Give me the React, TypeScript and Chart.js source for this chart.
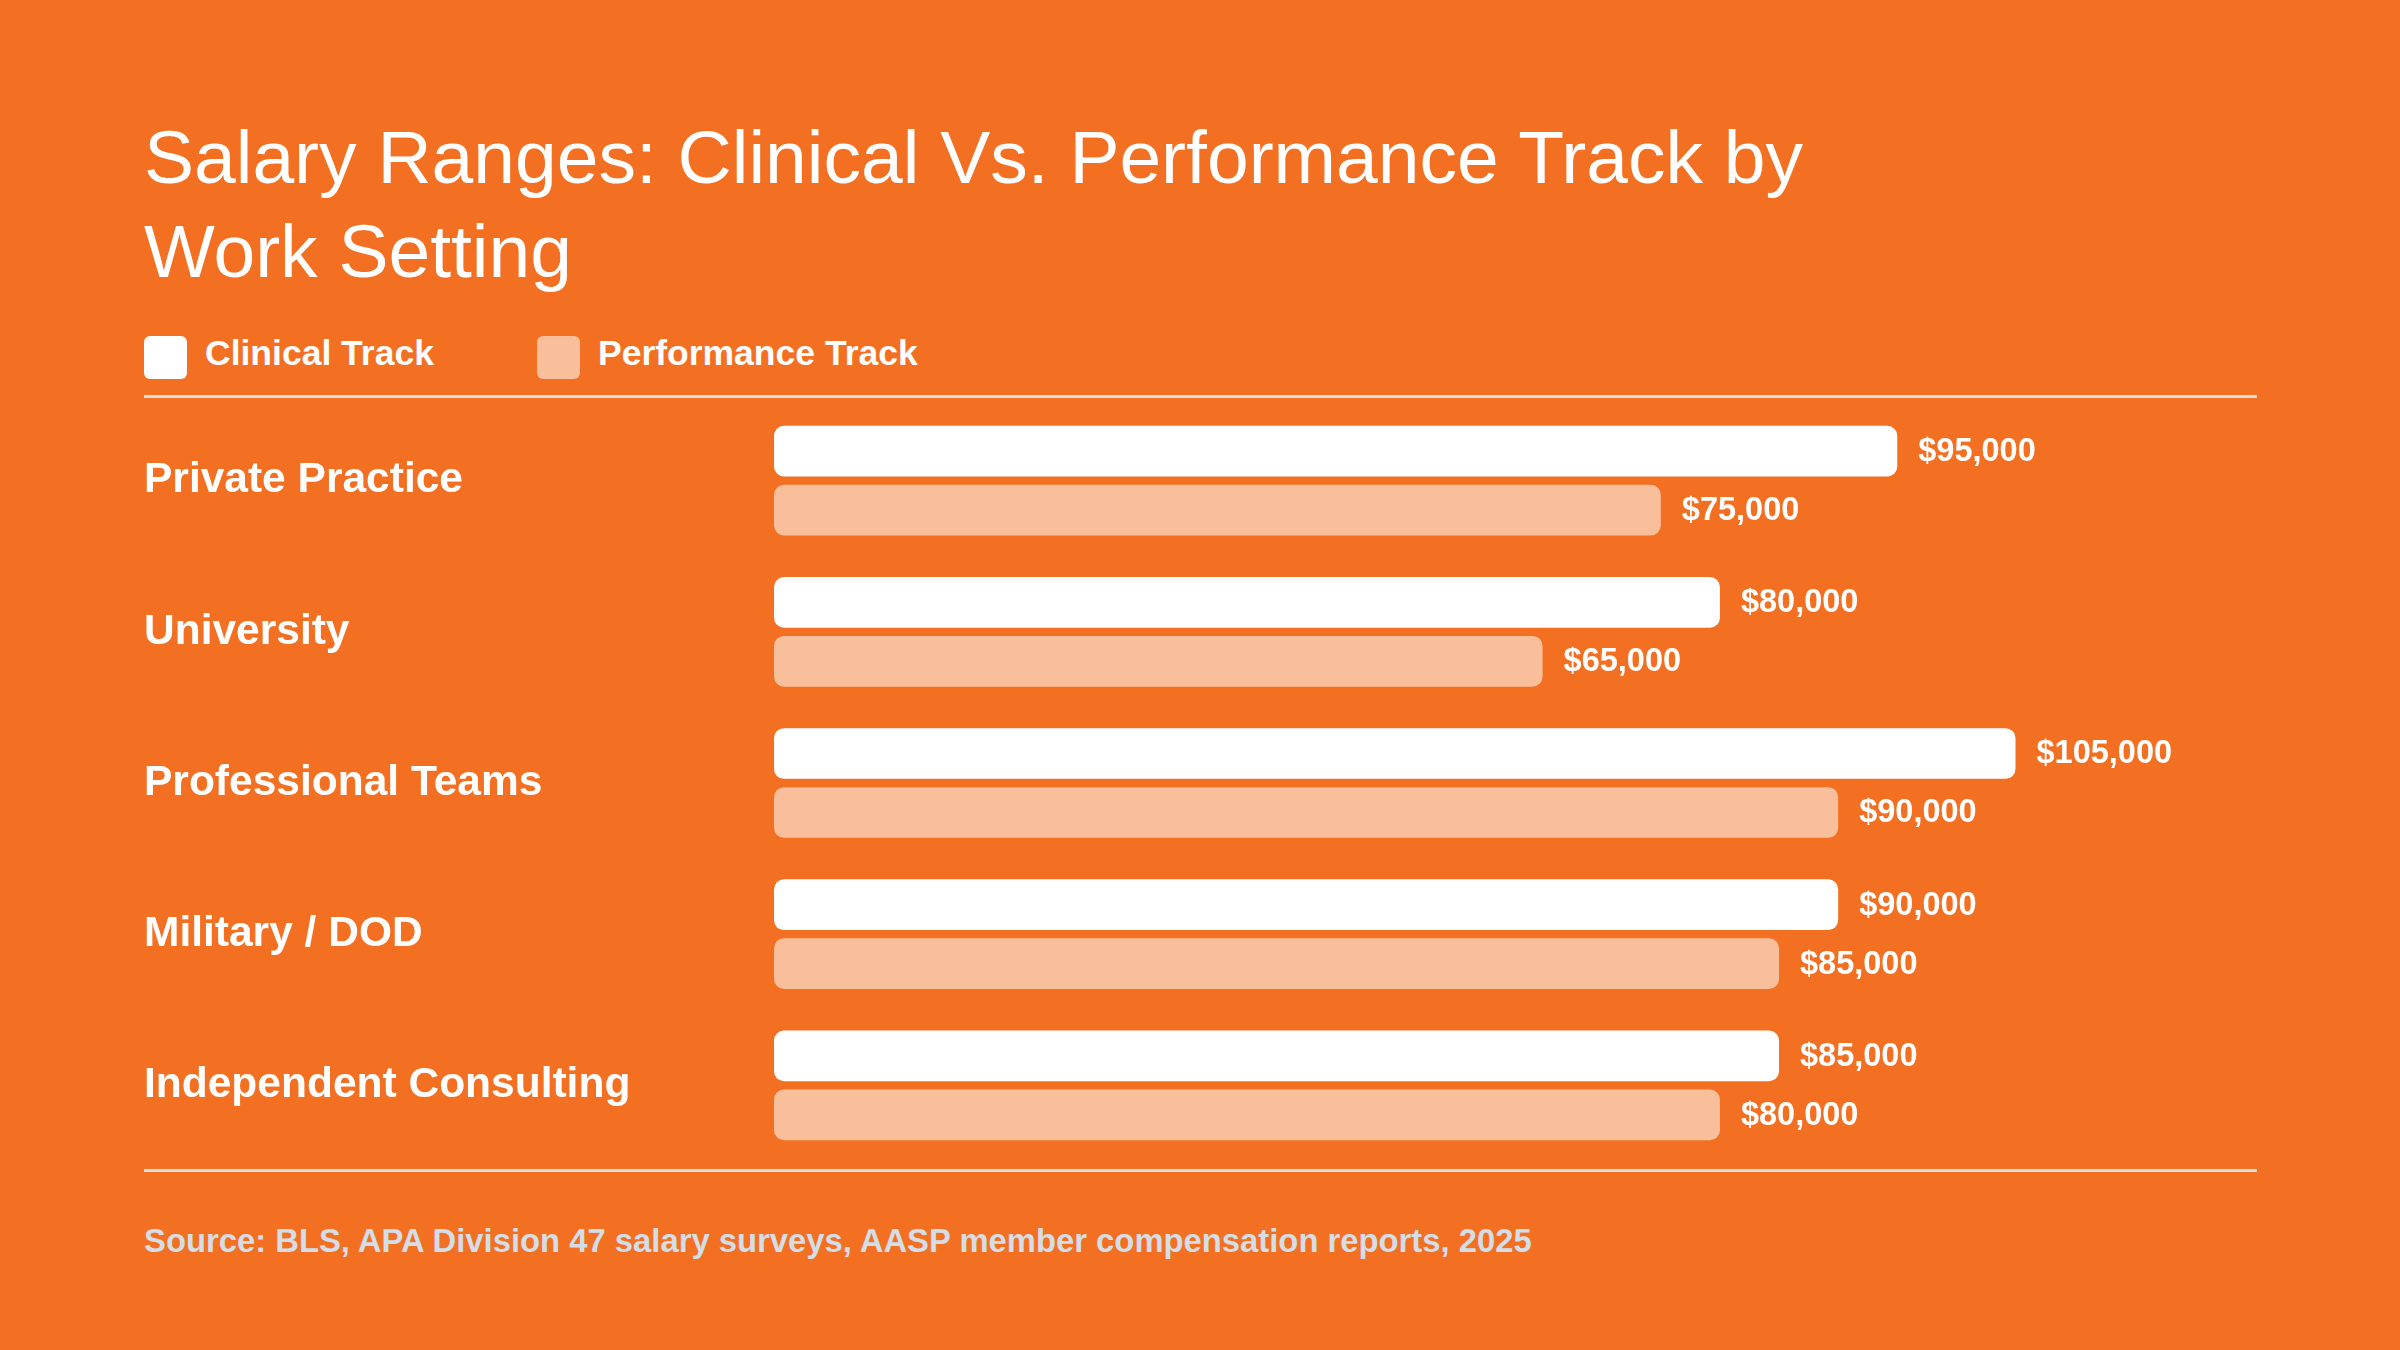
import React, { useEffect, useRef } from "react";
import { Chart, registerables } from "chart.js";

Chart.register(...registerables);

const categories = [
  "Private Practice",
  "University",
  "Professional Teams",
  "Military / DOD",
  "Independent Consulting",
];
const clinicalTrack = [95000, 80000, 105000, 90000, 85000];
const performanceTrack = [75000, 65000, 90000, 85000, 80000];
const seriesNames = ["Clinical Track", "Performance Track"];
const titleLines = ["Salary Ranges: Clinical Vs. Performance Track by", "Work Setting"];
const sourceNote =
  "Source: BLS, APA Division 47 salary surveys, AASP member compensation reports, 2025";

const BG = "#F37022";
const WHITE = "#FFFFFF";
const PEACH = "#F9BE9A";
const RULE = "#DEDEDE";
const SOURCE = "#D5DDE6";
const FONT = "'Liberation Sans', Arial, Helvetica, sans-serif";

const valueLabels = {
  id: "valueLabels",
  afterDatasetsDraw(chart: any) {
    const ctx = chart.ctx;
    ctx.save();
    ctx.font = `bold 32.5px ${FONT}`;
    ctx.fillStyle = WHITE;
    ctx.textAlign = "left";
    ctx.textBaseline = "middle";
    chart.data.datasets.forEach((ds: any, i: number) => {
      const meta = chart.getDatasetMeta(i);
      meta.data.forEach((bar: any, j: number) => {
        const v = ds.data[j] as number;
        ctx.fillText("$" + v.toLocaleString("en-US"), bar.x + 21, bar.y + 1);
      });
    });
    ctx.restore();
  },
};

export default function App() {
  const canvasRef = useRef<HTMLCanvasElement | null>(null);

  useEffect(() => {
    if (!canvasRef.current) return;
    const chart = new Chart(canvasRef.current, {
      type: "bar",
      data: {
        labels: categories,
        datasets: [
          {
            label: seriesNames[0],
            data: clinicalTrack,
            backgroundColor: WHITE,
            borderRadius: 10,
            borderSkipped: false,
            categoryPercentage: 0.78,
            barPercentage: 0.86,
          },
          {
            label: seriesNames[1],
            data: performanceTrack,
            backgroundColor: PEACH,
            borderRadius: 10,
            borderSkipped: false,
            categoryPercentage: 0.78,
            barPercentage: 0.86,
          },
        ],
      },
      options: {
        indexAxis: "y",
        responsive: false,
        animation: false,
        devicePixelRatio: 1,
        layout: {
          padding: { left: 144, top: 405, bottom: 189, right: 148 },
        },
        plugins: {
          legend: { display: false },
          tooltip: { enabled: false },
        },
        scales: {
          x: {
            display: false,
            min: 0,
            max: 125000,
          },
          y: {
            type: "category",
            grid: { display: false },
            border: { display: false },
            afterFit(scale: any) {
              scale.width = 630;
            },
            ticks: {
              color: WHITE,
              autoSkip: false,
              crossAlign: "far",
              padding: 0,
              font: { family: FONT, size: 42.5, weight: "bold" },
            },
          },
        },
      },
      plugins: [valueLabels],
    } as any);
    return () => chart.destroy();
  }, []);

  const legendItem = (left: number, color: string, text: string) => (
    <div key={text} style={{ position: "absolute", left, top: 336, height: 43 }}>
      <div
        style={{
          position: "absolute",
          left: 0,
          top: 0,
          width: 43,
          height: 43,
          borderRadius: 6,
          background: color,
        }}
      />
      <div
        style={{
          position: "absolute",
          left: 61,
          top: -4,
          lineHeight: "43px",
          fontSize: 35.5,
          fontWeight: "bold",
          color: WHITE,
          whiteSpace: "nowrap",
          fontFamily: FONT,
        }}
      >
        {text}
      </div>
    </div>
  );

  return (
    <div
      style={{
        position: "fixed",
        left: 0,
        top: 0,
        width: 2400,
        height: 1350,
        background: BG,
        overflow: "hidden",
        fontFamily: FONT,
      }}
    >
      <div
        style={{
          position: "absolute",
          left: 144,
          top: 110,
          fontSize: 75,
          lineHeight: "94px",
          color: WHITE,
          whiteSpace: "nowrap",
          fontWeight: "normal",
        }}
      >
        {titleLines[0]}
        <br />
        {titleLines[1]}
      </div>
      {legendItem(144, WHITE, seriesNames[0])}
      {legendItem(537, PEACH, seriesNames[1])}
      <div
        style={{
          position: "absolute",
          left: 144,
          top: 395,
          width: 2113,
          height: 3,
          background: RULE,
        }}
      />
      <div
        style={{
          position: "absolute",
          left: 144,
          top: 1169,
          width: 2113,
          height: 3,
          background: RULE,
        }}
      />
      <div
        style={{
          position: "absolute",
          left: 144,
          top: 1224,
          fontSize: 32.8,
          lineHeight: "33px",
          fontWeight: "bold",
          color: SOURCE,
          whiteSpace: "nowrap",
        }}
      >
        {sourceNote}
      </div>
      <canvas
        ref={canvasRef}
        width={2400}
        height={1350}
        style={{ position: "absolute", left: 0, top: 0, width: 2400, height: 1350 }}
      />
    </div>
  );
}
